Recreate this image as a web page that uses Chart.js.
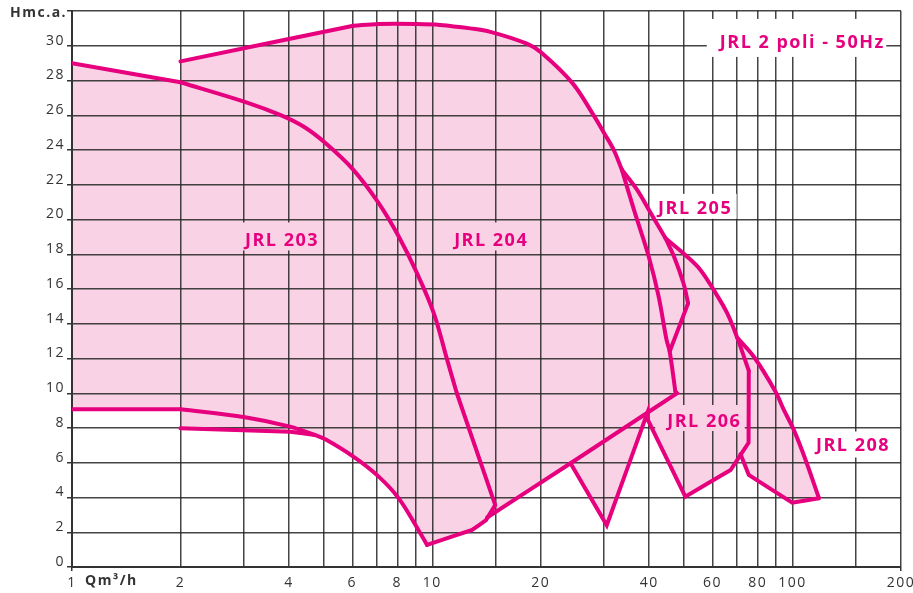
<!DOCTYPE html>
<html>
<head>
<meta charset="utf-8">
<script src="https://cdn.jsdelivr.net/npm/chart.js@4.4.1/dist/chart.umd.min.js"></script>
<style>
    html, body { margin: 0; padding: 0; background: #fff; }
    #pumpChart { display: block; }
</style>
</head>
<body>
<canvas id="pumpChart" width="913" height="593"></canvas>
<script>
/**
 * JRL 2 poli - 50Hz performance fields
 * Points are [Q m3/h, H m]
 */
const jrl203Max = [[1, 29.0], [2, 27.9], [3.06, 26.73], [3.78, 26.02], [4.39, 25.35], [5.05, 24.4], [6.04, 22.86], [7.1, 20.94], [8.07, 19.02], [9.07, 16.91], [10.1, 14.6], [11.0, 11.92], [11.7, 10.0], [14.95, 3.57]];
const sharedFoot = [[14.1, 2.7], [12.9, 2.13], [9.67, 1.27], [9.15, 2.13], [8.07, 3.95], [7.1, 5.2], [6.04, 6.35], [5.05, 7.35], [4.72, 7.6]];
const jrl203Min = [[4.03, 8.08], [3.02, 8.62], [2, 9.08], [1, 9.08]];
const jrl204Min = [[4.03, 7.79], [2, 7.98]];
const jrl204Max = [[2, 29.1], [6.04, 31.15], [7.1, 31.25], [9.07, 31.25], [10.5, 31.2], [12.75, 31.0], [14.5, 30.8], [18.3, 30.12], [20.1, 29.6], [24.5, 27.85], [28.0, 26.02], [30.2, 24.87], [31.9, 24.0], [33.6, 22.86]];
const jrl204Right = [[36.3, 20.55], [39.9, 17.86], [42.5, 15.56], [44.7, 13.07], [45.6, 12.4], [47.3, 10.09], [47.8, 10.0]];
const jrl204Base = [[24.2, 5.97], [14.2, 2.85]];
const jrl205Max = [[37.0, 21.72], [40.2, 20.45], [44.4, 18.92]];
const jrl205Right = [[46.9, 17.86], [49.8, 16.33], [51.3, 15.18], [45.6, 12.4]];
const jrl206Max = [[51.0, 17.86], [55.5, 17.1], [60.4, 15.95], [65.9, 14.6], [70.2, 13.2], [75.6, 11.3]];
const jrl206Min = [[75.5, 7.15], [67.3, 5.58], [50.4, 4.05], [39.7, 8.45], [39.6, 8.9], [30.5, 2.4], [24.2, 5.97]];
const jrl208Max = [[70.2, 13.2], [78.1, 12.1], [89.7, 10.09], [94.6, 9.04], [100.8, 7.89], [108.7, 6.16], [118.4, 3.96]];
const jrl208Min = [[99.8, 3.7], [75.6, 5.3], [71.7, 6.5]];

const xTickLabels = [1, 2, 4, 6, 8, 10, 20, 40, 60, 80, 100, 200];
const yTickLabels = [0, 2, 4, 6, 8, 10, 12, 14, 16, 18, 20, 22, 24, 26, 28, 30];

const PINK = '#f9d3e5';
const MAGENTA = '#e6007e';
const INK = '#333333';
const SMOOTH = 0.35;

const areaLabels = [
    {text: 'JRL 2 poli - 50Hz', q: 105.9, h: 30.22, bg: '#ffffff', pad: [13, 3, 16, 8]},
    {text: 'JRL 203', q: 3.81, h: 18.85, bg: PINK, pad: [4, 4, 10, 4]},
    {text: 'JRL 204', q: 14.5, h: 18.85, bg: PINK, pad: [4, 4, 10, 4]},
    {text: 'JRL 205', q: 53.4, h: 20.67, bg: '#ffffff', pad: [6, 6, 7, 4]},
    {text: 'JRL 206', q: 56.6, h: 8.46, bg: PINK, pad: [12, 5, 8, 4]},
    {text: 'JRL 208', q: 146.5, h: 7.05, bg: '#ffffff', pad: [6, 6, 6, 6]}
];

const pts = arr => arr.map(p => ({x: p[0], y: p[1]}));
const last = arr => arr[arr.length - 1];

// pink fields (fill only)
const fields = [
    [...jrl203Max, ...sharedFoot, ...jrl203Min],
    [...jrl204Max, ...jrl204Right, ...jrl204Base, ...sharedFoot, ...jrl204Min],
    [last(jrl204Max), ...jrl205Max, ...jrl206Max, ...jrl206Min, ...[...jrl204Right].reverse()],
    [...jrl208Max, ...jrl208Min, jrl206Min[0], last(jrl206Max)]
];

// magenta outlines: smooth curve pieces and straight pieces
const outlines = [
    {path: jrl203Max.slice(0, 2), tension: 0},
    {path: jrl203Max.slice(1, 13), tension: SMOOTH},
    {path: [...jrl203Max.slice(12), ...sharedFoot.slice(0, 3)], tension: 0},
    {path: [...sharedFoot.slice(2), ...jrl203Min.slice(0, 3)], tension: SMOOTH},
    {path: jrl203Min.slice(2), tension: 0},
    {path: [last(sharedFoot), ...jrl204Min], tension: 0},
    {path: jrl204Max.slice(0, 2), tension: 0},
    {path: jrl204Max.slice(1), tension: SMOOTH},
    {path: [last(jrl204Max), ...jrl204Right.slice(0, 6)], tension: SMOOTH},
    {path: [...jrl204Right.slice(5), ...jrl204Base], tension: 0},
    {path: [last(jrl204Max), ...jrl205Max], tension: SMOOTH},
    {path: [last(jrl205Max), ...jrl206Max], tension: SMOOTH},
    {path: [last(jrl206Max), ...jrl206Min], tension: 0},
    {path: [last(jrl205Max), ...jrl205Right.slice(0, 3)], tension: SMOOTH},
    {path: jrl205Right.slice(2), tension: 0},
    {path: jrl208Max, tension: SMOOTH},
    {path: [last(jrl208Max), ...jrl208Min], tension: 0}
];

const datasets = [
    ...fields.map(f => ({
        data: pts(f),
        showLine: true,
        fill: 'shape',
        backgroundColor: PINK,
        borderColor: 'rgba(0,0,0,0)',
        borderWidth: 0,
        pointRadius: 0,
        tension: 0.0001
    })),
    ...outlines.map(o => ({
        data: pts(o.path),
        showLine: true,
        fill: false,
        borderColor: MAGENTA,
        borderWidth: 4,
        borderJoinStyle: 'miter',
        borderCapStyle: 'round',
        pointRadius: 0,
        tension: o.tension || 0.0001
    }))
];

const sheetText = {
    id: 'sheetText',
    beforeLayout(chart) { chart.ctx.letterSpacing = '1.5px'; },
    beforeDraw(chart) { chart.ctx.letterSpacing = '1.5px'; },
    beforeDatasetsDraw(chart) {
        const ctx = chart.ctx;
        const xs = chart.scales.x, ys = chart.scales.y;
        ctx.save();
        ctx.font = 'bold 18px "Open Sans"';
        ctx.letterSpacing = '1.5px';
        ctx.textAlign = 'left';
        ctx.textBaseline = 'alphabetic';
        areaLabels.forEach(l => {
            const cx = xs.getPixelForValue(l.q);
            const cy = ys.getPixelForValue(l.h);
            const w = ctx.measureText(l.text).width - 1.5;
            ctx.fillStyle = l.bg;
            ctx.fillRect(cx - w / 2 - l.pad[0], cy - 7 - l.pad[2], w + l.pad[0] + l.pad[1], 14 + l.pad[2] + l.pad[3]);
            ctx.fillStyle = MAGENTA;
            ctx.fillText(l.text, cx - w / 2, cy + 6.5);
        });
        ctx.restore();
    },
    afterDraw(chart) {
        const ctx = chart.ctx;
        ctx.save();
        ctx.letterSpacing = '1.5px';
        ctx.fillStyle = INK;
        ctx.font = 'bold 14px "Open Sans"';
        ctx.textBaseline = 'middle';
        ctx.textAlign = 'left';
        ctx.fillText('Hmc.a.', 10, 13);
        ctx.fillText('Qm³/h', 85, 581);
        ctx.restore();
    }
};

new Chart(document.getElementById('pumpChart'), {
    type: 'scatter',
    data: {datasets},
    options: {
        responsive: false,
        animation: false,
        events: [],
        layout: {padding: {top: 11, right: 12, left: 0, bottom: 0}},
        plugins: {
            legend: {display: false},
            tooltip: {enabled: false},
            filler: {drawTime: 'beforeDraw'}
        },
        scales: {
            x: {
                type: 'logarithmic',
                min: 1,
                max: 200,
                afterFit(scale) {
                    scale.height = 26;
                    scale.paddingLeft = 0;
                    scale.paddingRight = 0;
                },
                grid: {
                    color: 'rgba(35,35,35,0.85)',
                    lineWidth: 1.5,
                    tickLength: 4,
                    tickColor: c => (c.tick && (c.tick.value === 1 || c.tick.value === 200)) ? INK : 'rgba(0,0,0,0)'
                },
                border: {color: INK, width: 2},
                ticks: {
                    autoSkip: false,
                    maxRotation: 0,
                    padding: 4,
                    color: INK,
                    font: {family: '"Open Sans"', size: 14},
                    callback: v => xTickLabels.includes(Math.round(v * 1000) / 1000) ? String(v) : ''
                }
            },
            y: {
                min: 0,
                max: 32,
                afterFit(scale) { scale.width = 72; },
                grid: {
                    color: 'rgba(35,35,35,0.85)',
                    lineWidth: 1.5,
                    tickLength: 5,
                    tickColor: INK,
                    tickWidth: 1.5
                },
                border: {color: INK, width: 2},
                ticks: {
                    stepSize: 2,
                    padding: 2,
                    labelOffset: -5,
                    color: INK,
                    font: {family: '"Open Sans"', size: 14},
                    callback: v => yTickLabels.includes(v) ? String(v) : ''
                }
            }
        }
    },
    plugins: [sheetText]
});
</script>
</body>
</html>
